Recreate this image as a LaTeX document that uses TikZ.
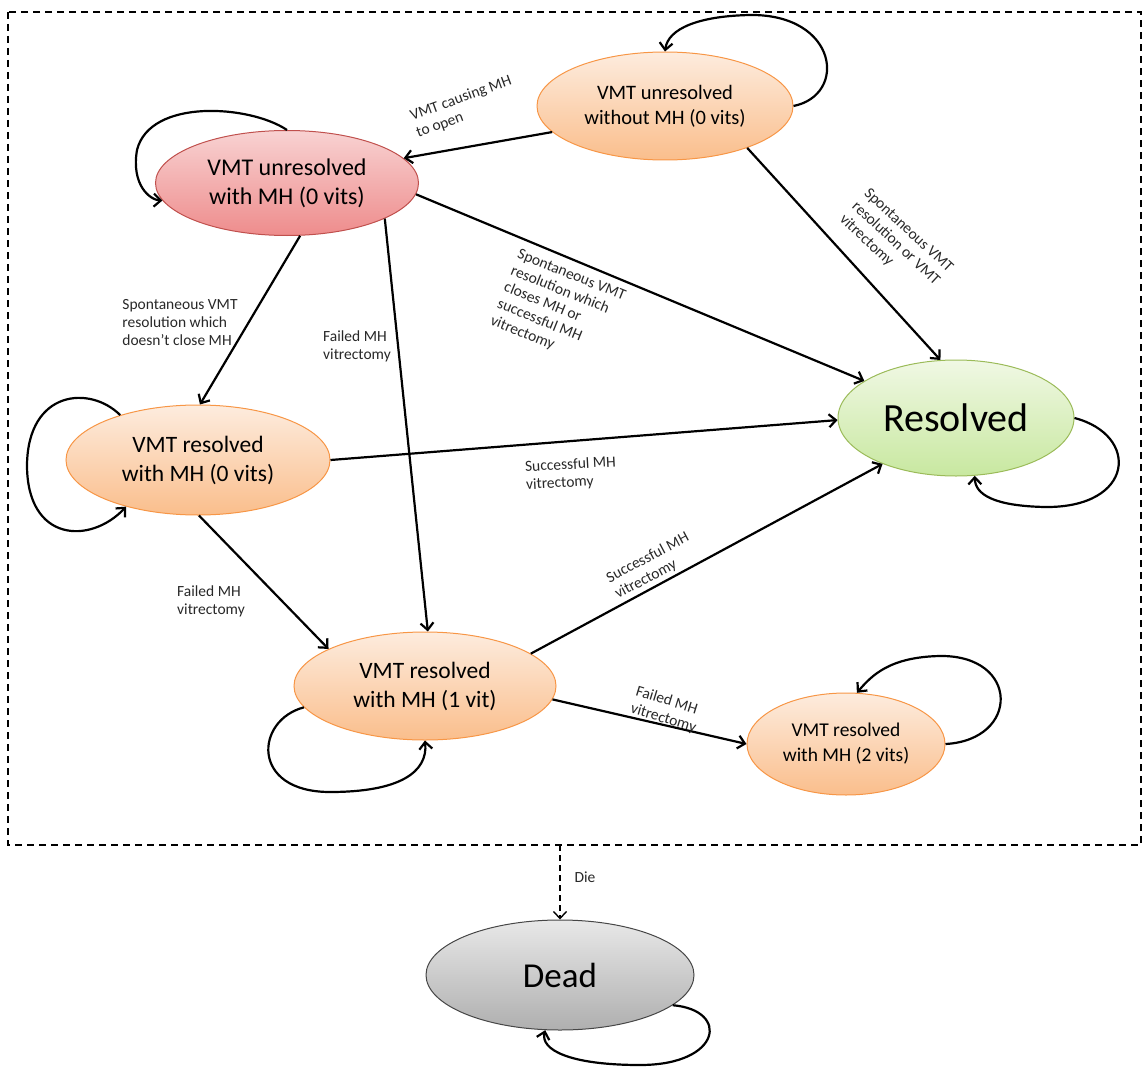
\documentclass[tikz,border=0pt]{standalone}
\usepackage{fontspec}
\setmainfont{Carlito}
\usetikzlibrary{shapes.geometric,arrows.meta}

\definecolor{orgline}{RGB}{247,150,70}
\definecolor{orgtop}{RGB}{253,236,222}
\definecolor{orgbot}{RGB}{250,190,140}
\definecolor{redline}{RGB}{192,80,77}
\definecolor{redtop}{RGB}{248,210,210}
\definecolor{redbot}{RGB}{238,140,140}
\definecolor{grnline}{RGB}{155,187,89}
\definecolor{grntop}{RGB}{240,248,228}
\definecolor{grnbot}{RGB}{200,232,160}
\definecolor{gryline}{RGB}{70,70,70}
\definecolor{grytop}{RGB}{232,232,232}
\definecolor{grybot}{RGB}{175,175,175}
\definecolor{lbltext}{RGB}{40,40,40}

\tikzset{
  state/.style={ellipse, line width=1pt, inner sep=0pt, align=center},
  orgstate/.style={state, draw=orgline, top color=orgtop, bottom color=orgbot},
  trans/.style={line width=2.2pt, -{Straight Barb[length=7pt,width=13pt]}},
  lbl/.style={font=\fontsize{15.5}{18}\selectfont, align=left, inner sep=0pt, text=lbltext},
}

\begin{document}
\begin{tikzpicture}[x=1pt,y=-1pt]
\useasboundingbox (0,0) rectangle (1146,1070);

%Shape: Rectangle (alive states)
\draw [line width=1.4pt, dash pattern=on 7pt off 5pt] (8,12) rectangle (1141,845);
\coordinate (boxbot) at (560,845);

%Shape: Ellipse
\node [orgstate, minimum width=256pt, minimum height=108pt, font=\fontsize{20.5}{25}\selectfont] (unres) at (665,106) {VMT unresolved\\without MH (0 vits)};
%Shape: Ellipse
\node [state, draw=redline, top color=redtop, bottom color=redbot, minimum width=263pt, minimum height=105pt, font=\fontsize{24}{29}\selectfont] (unresmh) at (287,183) {VMT unresolved\\with MH (0 vits)};
%Shape: Ellipse
\node [state, draw=grnline, top color=grntop, bottom color=grnbot, minimum width=236pt, minimum height=116pt, font=\fontsize{40}{48}\selectfont] (res) at (956,418) {Resolved};
%Shape: Ellipse
\node [orgstate, minimum width=264pt, minimum height=110pt, font=\fontsize{23.5}{29}\selectfont] (resmh0) at (198,460) {VMT resolved\\with MH (0 vits)};
%Shape: Ellipse
\node [orgstate, minimum width=262pt, minimum height=108pt, font=\fontsize{23.5}{29}\selectfont] (resmh1) at (425,686) {VMT resolved\\with MH (1 vit)};
%Shape: Ellipse
\node [orgstate, minimum width=198pt, minimum height=102pt, font=\fontsize{19.5}{25}\selectfont] (resmh2) at (846,744) {VMT resolved\\with MH (2 vits)};
%Shape: Ellipse
\node [state, draw=gryline, top color=grytop, bottom color=grybot, minimum width=268pt, minimum height=110pt, font=\fontsize{35}{42}\selectfont] (dead) at (560,975) {Dead};

%Straight Lines
\draw [trans] (unres.193) -- (unresmh.12);
\draw [trans] (unres.333) -- (res.105);
\draw [trans] (unresmh.355) -- (res.158);
\draw [trans] (unresmh.284) -- (resmh0.88);
\draw [trans] (unresmh.340) -- (resmh1.87);
\draw [trans] (resmh0.0) -- (res.181);
\draw [trans] (resmh0.271) -- (resmh1.159);
\draw [trans] (resmh1.17) -- (res.212);
\draw [trans] (resmh1.354) -- (resmh2.180);
\draw [trans, line width=1.4pt, dash pattern=on 6pt off 4pt] (boxbot) -- (dead.north);

%Curve Lines (self loops)
\draw [trans] (unres.east) .. controls (848,95) and (838,14) .. (750,15) .. controls (700,16) and (668,28) .. (unres.north);
\draw [trans] (unresmh.north) .. controls (250,105) and (150,98) .. (137,150) .. controls (131,185) and (150,200) .. (unresmh.188);
\draw [trans] (resmh0.150) .. controls (90,385) and (28,390) .. (27,465) .. controls (27,542) and (90,545) .. (resmh0.213);
\draw [trans] (res.east) .. controls (1140,435) and (1135,508) .. (1045,507) .. controls (995,506) and (975,495) .. (res.288);
\draw [trans] (resmh1.190) .. controls (255,720) and (250,792) .. (330,792) .. controls (400,792) and (428,772) .. (resmh1.south);
\draw [trans] (resmh2.east) .. controls (1020,740) and (1020,655) .. (940,656) .. controls (890,657) and (872,675) .. (resmh2.78);
\draw [trans] (dead.345) .. controls (730,1010) and (722,1065) .. (640,1065) .. controls (570,1065) and (540,1050) .. (dead.255);

% Text Node
\node [lbl, rotate=20] (lopen) at (464,107) {VMT causing MH\\to open};
% Text Node
\node [lbl, rotate=-43] (lvit) at (896,244) {Spontaneous VMT\\resolution or VMT\\vitrectomy};
% Text Node
\node [lbl, rotate=-22] (lclose) at (558,309) {Spontaneous VMT\\resolution which\\closes MH or\\successful MH\\vitrectomy};
% Text Node
\node [lbl] (lnoclose) at (180,323) {Spontaneous VMT\\resolution which\\doesn’t close MH};
% Text Node
\node [lbl] (lfaila) at (357,346) {Failed MH\\vitrectomy};
% Text Node
\node [lbl, rotate=3] (lsucca) at (571,474) {Successful MH\\vitrectomy};
% Text Node
\node [lbl] (lfailb) at (211,601) {Failed MH\\vitrectomy};
% Text Node
\node [lbl, rotate=28] (lsuccb) at (652,566) {Successful MH\\vitrectomy};
% Text Node
\node [lbl, rotate=-17] (lfailc) at (666,710) {Failed MH\\vitrectomy};
% Text Node
\node [lbl] (ldie) at (585,877) {Die};

\end{tikzpicture}
\end{document}
